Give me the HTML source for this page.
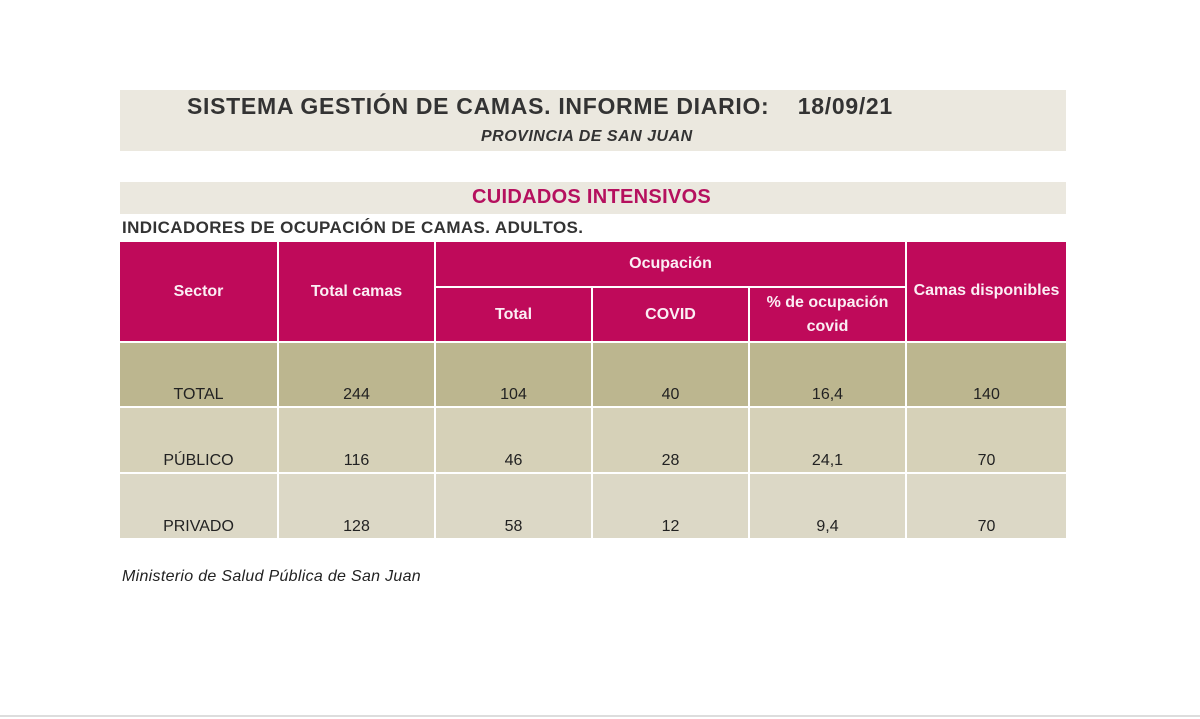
<!DOCTYPE html>
<html><head><meta charset="utf-8"><style>
body{margin:0;width:1200px;height:719px;background:#fff;position:relative;overflow:hidden;font-family:"Liberation Sans",sans-serif;}
.a{position:absolute;white-space:nowrap;}
.c{position:absolute;display:flex;align-items:center;justify-content:center;text-align:center;box-sizing:border-box;}
.h{background:#bf0a5a;color:#fbeef4;font-weight:bold;font-size:16px;line-height:24px;}
.d{color:#222;font-size:16px;align-items:flex-end;padding-bottom:2px;}
</style></head><body>
<div class="a" style="left:120px;top:90px;width:946px;height:61px;background:#ebe8df"></div>
<div class="a" style="left:187px;top:93px;font-size:23px;font-weight:bold;color:#333;letter-spacing:0.7px">SISTEMA GESTIÓN DE CAMAS. INFORME DIARIO:&nbsp;&nbsp;&nbsp; 18/09/21</div>
<div class="a" style="left:481px;top:128px;font-size:16px;font-weight:bold;font-style:italic;color:#333;letter-spacing:0.5px">PROVINCIA DE SAN JUAN</div>
<div class="a" style="left:120px;top:182px;width:946px;height:32px;background:#ebe8df"></div>
<div class="a" style="left:472px;top:186px;font-size:20px;font-weight:bold;color:#b5105e;letter-spacing:0.3px">CUIDADOS INTENSIVOS</div>
<div class="a" style="left:122px;top:218px;font-size:17px;font-weight:bold;color:#333;letter-spacing:0.4px">INDICADORES DE OCUPACIÓN DE CAMAS. ADULTOS.</div>

<div class="c h" style="left:120px;top:242px;width:157px;height:99px">Sector</div>
<div class="c h" style="left:279px;top:242px;width:155px;height:99px">Total camas</div>
<div class="c h" style="left:436px;top:242px;width:469px;height:44px">Ocupación</div>
<div class="c h" style="left:436px;top:288px;width:155px;height:53px">Total</div>
<div class="c h" style="left:593px;top:288px;width:155px;height:53px">COVID</div>
<div class="c h" style="left:750px;top:288px;width:155px;height:53px">% de ocupación<br>covid</div>
<div class="c h" style="left:907px;top:242px;width:159px;height:99px;padding-bottom:2px">Camas disponibles</div>

<div id="rows"></div>
<script>
var cols=[[120,157],[279,155],[436,155],[593,155],[750,155],[907,159]];
var rows=[[343,63,"#bcb68f",["TOTAL","244","104","40","16,4","140"]],
[408,64,"#d6d1b8",["PÚBLICO","116","46","28","24,1","70"]],
[474,64,"#dcd8c6",["PRIVADO","128","58","12","9,4","70"]]];
var h="";rows.forEach(function(r){cols.forEach(function(c,i){h+='<div class="c d" style="left:'+c[0]+'px;top:'+r[0]+'px;width:'+c[1]+'px;height:'+r[1]+'px;background:'+r[2]+'">'+r[3][i]+'</div>';});});
document.getElementById("rows").innerHTML=h;
</script>
<div class="a" style="left:122px;top:568px;font-size:16px;font-style:italic;color:#222;letter-spacing:0.3px">Ministerio de Salud Pública de San Juan</div>
<div class="a" style="left:0;top:715px;width:1200px;height:2px;background:#ddd"></div>
</body></html>
